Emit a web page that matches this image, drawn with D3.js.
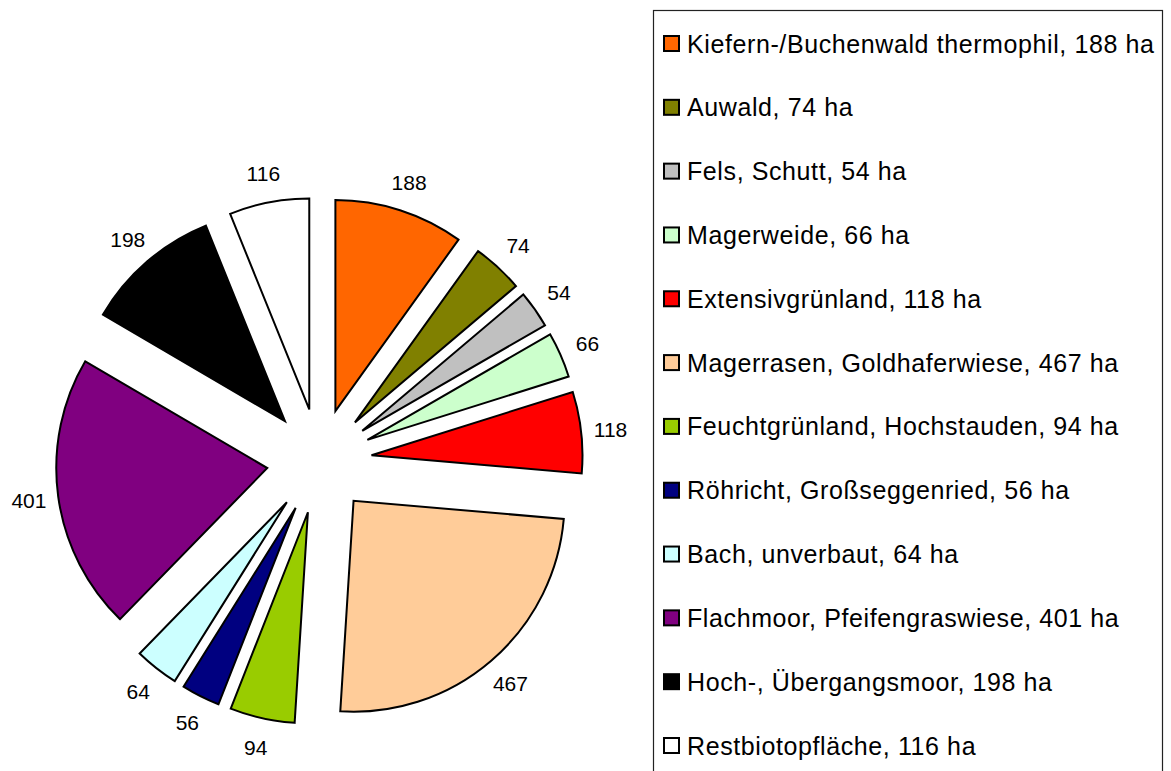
<!DOCTYPE html>
<html lang="de">
<head>
    <meta charset="UTF-8">
    <title>Biotopflächen</title>
    <script src="https://d3js.org/d3.v7.min.js"></script>
    <style>
        body {
            margin: 0;
            padding: 0;
            background-color: #ffffff;
            font-family: 'Liberation Sans', Arial, sans-serif;
        }

        svg {
            display: block;
        }

        .slice {
            stroke: #000000;
            stroke-width: 2px;
            stroke-linejoin: miter;
        }

        .pie-label {
            font-size: 21px;
            fill: #000000;
        }

        .legend-text {
            font-size: 25px;
            letter-spacing: 0.6px;
            fill: #000000;
        }
    </style>
</head>
<body>
    <div id="chart"></div>

    <script>
        // Biotoptypen und Flächen (ha), im Uhrzeigersinn ab 12 Uhr
        const categories = [
            'Kiefern-/Buchenwald thermophil',
            'Auwald',
            'Fels, Schutt',
            'Magerweide',
            'Extensivgrünland',
            'Magerrasen, Goldhaferwiese',
            'Feuchtgrünland, Hochstauden',
            'Röhricht, Großseggenried',
            'Bach, unverbaut',
            'Flachmoor, Pfeifengraswiese',
            'Hoch-, Übergangsmoor',
            'Restbiotopfläche'
        ];

        const areas = [188, 74, 54, 66, 118, 467, 94, 56, 64, 401, 198, 116];

        const colors = [
            '#ff6600', '#808000', '#c0c0c0', '#ccffcc', '#ff0000', '#ffcc99',
            '#99cc00', '#000080', '#ccffff', '#800080', '#000000', '#ffffff'
        ];

        const data = categories.map((name, i) => ({ name, value: areas[i], color: colors[i] }));

        const width = 1171;
        const height = 771;

        const center = { x: 319.3, y: 461 };
        const radius = 211;
        const explode = 52.5;
        const labelRadius = 293;

        const svg = d3.select('#chart')
            .append('svg')
            .attr('width', width)
            .attr('height', height);

        const pie = d3.pie()
            .value(d => d.value)
            .sort(null)
            .startAngle(0)
            .endAngle(2 * Math.PI);

        const arc = d3.arc()
            .innerRadius(0)
            .outerRadius(radius);

        const arcs = pie(data);
        const mid = d => (d.startAngle + d.endAngle) / 2;

        const g = svg.append('g')
            .attr('transform', `translate(${center.x},${center.y})`);

        g.selectAll('path')
            .data(arcs)
            .join('path')
            .attr('class', 'slice')
            .attr('d', arc)
            .attr('fill', d => d.data.color)
            .attr('transform', d => {
                const a = mid(d);
                return `translate(${explode * Math.sin(a)},${-explode * Math.cos(a)})`;
            });

        g.selectAll('text')
            .data(arcs)
            .join('text')
            .attr('class', 'pie-label')
            .attr('x', d => labelRadius * Math.sin(mid(d)))
            .attr('y', d => -labelRadius * Math.cos(mid(d)))
            .attr('text-anchor', 'middle')
            .attr('dominant-baseline', 'central')
            .text(d => d.data.value);

        // Legende
        const legend = svg.append('g');

        legend.append('rect')
            .attr('x', 653.5)
            .attr('y', 10.5)
            .attr('width', 509)
            .attr('height', 800)
            .attr('fill', 'none')
            .attr('stroke', '#222222')
            .attr('stroke-width', 1.2);

        const rowY = d3.scalePoint()
            .domain(categories)
            .range([43.5, 745.5]);

        const row = legend.selectAll('g.row')
            .data(data)
            .join('g')
            .attr('class', 'row')
            .attr('transform', d => `translate(0,${rowY(d.name)})`);

        row.append('rect')
            .attr('x', 664)
            .attr('y', -7.5)
            .attr('width', 15)
            .attr('height', 15)
            .attr('fill', d => d.color)
            .attr('stroke', '#000000')
            .attr('stroke-width', 2);

        row.append('text')
            .attr('class', 'legend-text')
            .attr('x', 687)
            .attr('y', 0)
            .attr('dominant-baseline', 'central')
            .text(d => `${d.name}, ${d.value} ha`);
    </script>
</body>
</html>
